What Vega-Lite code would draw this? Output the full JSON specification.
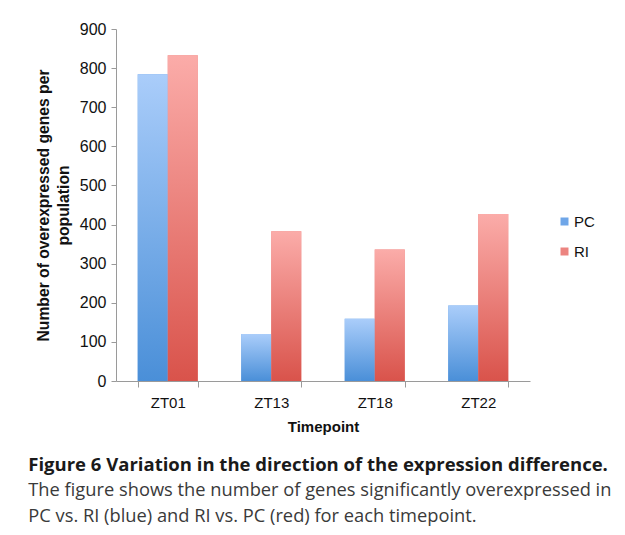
{
  "$schema": "https://vega.github.io/schema/vega-lite/v6.json",
  "width": 414,
  "height": 352,
  "autosize": {"type": "pad"},
  "padding": {"left": 28, "top": 21, "right": 5, "bottom": 5},
  "background": "white",
  "data": {
    "values": [
      {"Timepoint": "ZT01", "Series": "PC", "Count": 784},
      {"Timepoint": "ZT01", "Series": "RI", "Count": 833},
      {"Timepoint": "ZT13", "Series": "PC", "Count": 120},
      {"Timepoint": "ZT13", "Series": "RI", "Count": 383},
      {"Timepoint": "ZT18", "Series": "PC", "Count": 159},
      {"Timepoint": "ZT18", "Series": "RI", "Count": 336},
      {"Timepoint": "ZT22", "Series": "PC", "Count": 193},
      {"Timepoint": "ZT22", "Series": "RI", "Count": 427}
    ]
  },
  "encoding": {
    "x": {
      "field": "Timepoint",
      "type": "nominal",
      "scale": {"paddingInner": 0.42, "paddingOuter": 0.21},
      "axis": {
        "title": "Timepoint",
        "labelAngle": 0,
        "labelFont": "Liberation Sans",
        "labelFontSize": 15,
        "labelColor": "#111",
        "labelPadding": 8,
        "titleFont": "Liberation Sans",
        "titleFontSize": 15,
        "titleFontWeight": "bold",
        "titleColor": "#111",
        "titlePadding": 9,
        "tickBand": "extent",
        "tickSize": 6,
        "tickColor": "#9a9a9a",
        "domainColor": "#9a9a9a",
        "grid": false
      }
    },
    "xOffset": {"field": "Series", "type": "nominal", "sort": ["PC", "RI"], "scale": {"paddingInner": 0, "paddingOuter": 0}},
    "y": {
      "field": "Count",
      "type": "quantitative",
      "scale": {"domain": [0, 900], "nice": false},
      "axis": {
        "values": [0, 100, 200, 300, 400, 500, 600, 700, 800, 900],
        "title": ["Number of overexpressed genes per", "population"],
        "titleFont": "Liberation Sans",
        "titleFontSize": 15.7,
        "titleFontWeight": "bold",
        "titleColor": "#111",
        "titlePadding": 8,
        "titleLineHeight": 20,
        "labelFont": "Liberation Sans",
        "labelFontSize": 16,
        "labelColor": "#111",
        "labelPadding": 5,
        "tickSize": 5,
        "tickColor": "#9a9a9a",
        "domainColor": "#9a9a9a",
        "grid": false
      }
    }
  },
  "layer": [
    {
      "mark": {"type": "bar"},
      "encoding": {
        "color": {
          "field": "Series",
          "type": "nominal",
          "scale": {"domain": ["PC", "RI"], "range": ["#6fa6e8", "#ec8480"]},
          "legend": {
            "title": null,
            "orient": "none",
            "legendX": 441,
            "legendY": 185,
            "symbolType": "square",
            "symbolSize": 64,
            "symbolStrokeWidth": 0,
            "symbolOpacity": 1,
            "labelFont": "Liberation Sans",
            "labelFontSize": 15,
            "labelColor": "#111",
            "labelOffset": 2,
            "rowPadding": 14
          }
        }
      }
    },
    {
      "mark": {"type": "bar"},
      "encoding": {
        "fill": {
          "condition": {
            "test": "datum.Series === 'PC'",
            "value": {"gradient": "linear", "x1": 0, "y1": 0, "x2": 0, "y2": 1, "stops": [{"offset": 0, "color": "#aacdfa"}, {"offset": 1, "color": "#4a8fd8"}]}
          },
          "value": {"gradient": "linear", "x1": 0, "y1": 0, "x2": 0, "y2": 1, "stops": [{"offset": 0, "color": "#fbaca9"}, {"offset": 1, "color": "#d9534b"}]}
        }
      }
    }
  ],
  "title": {
    "text": "Figure 6 Variation in the direction of the expression difference.",
    "subtitle": ["The figure shows the number of genes significantly overexpressed in", "PC vs. RI (blue) and RI vs. PC (red) for each timepoint."],
    "orient": "bottom",
    "anchor": "start",
    "frame": "bounds",
    "offset": 22,
    "dx": -7,
    "font": "Open Sans",
    "fontSize": 18.5,
    "fontWeight": "bold",
    "color": "#1a1a1a",
    "subtitleFont": "Open Sans",
    "subtitleFontSize": 18.3,
    "subtitleColor": "#3a3a3a",
    "subtitleLineHeight": 26,
    "subtitlePadding": 7
  },
  "config": {"view": {"stroke": null}}
}
